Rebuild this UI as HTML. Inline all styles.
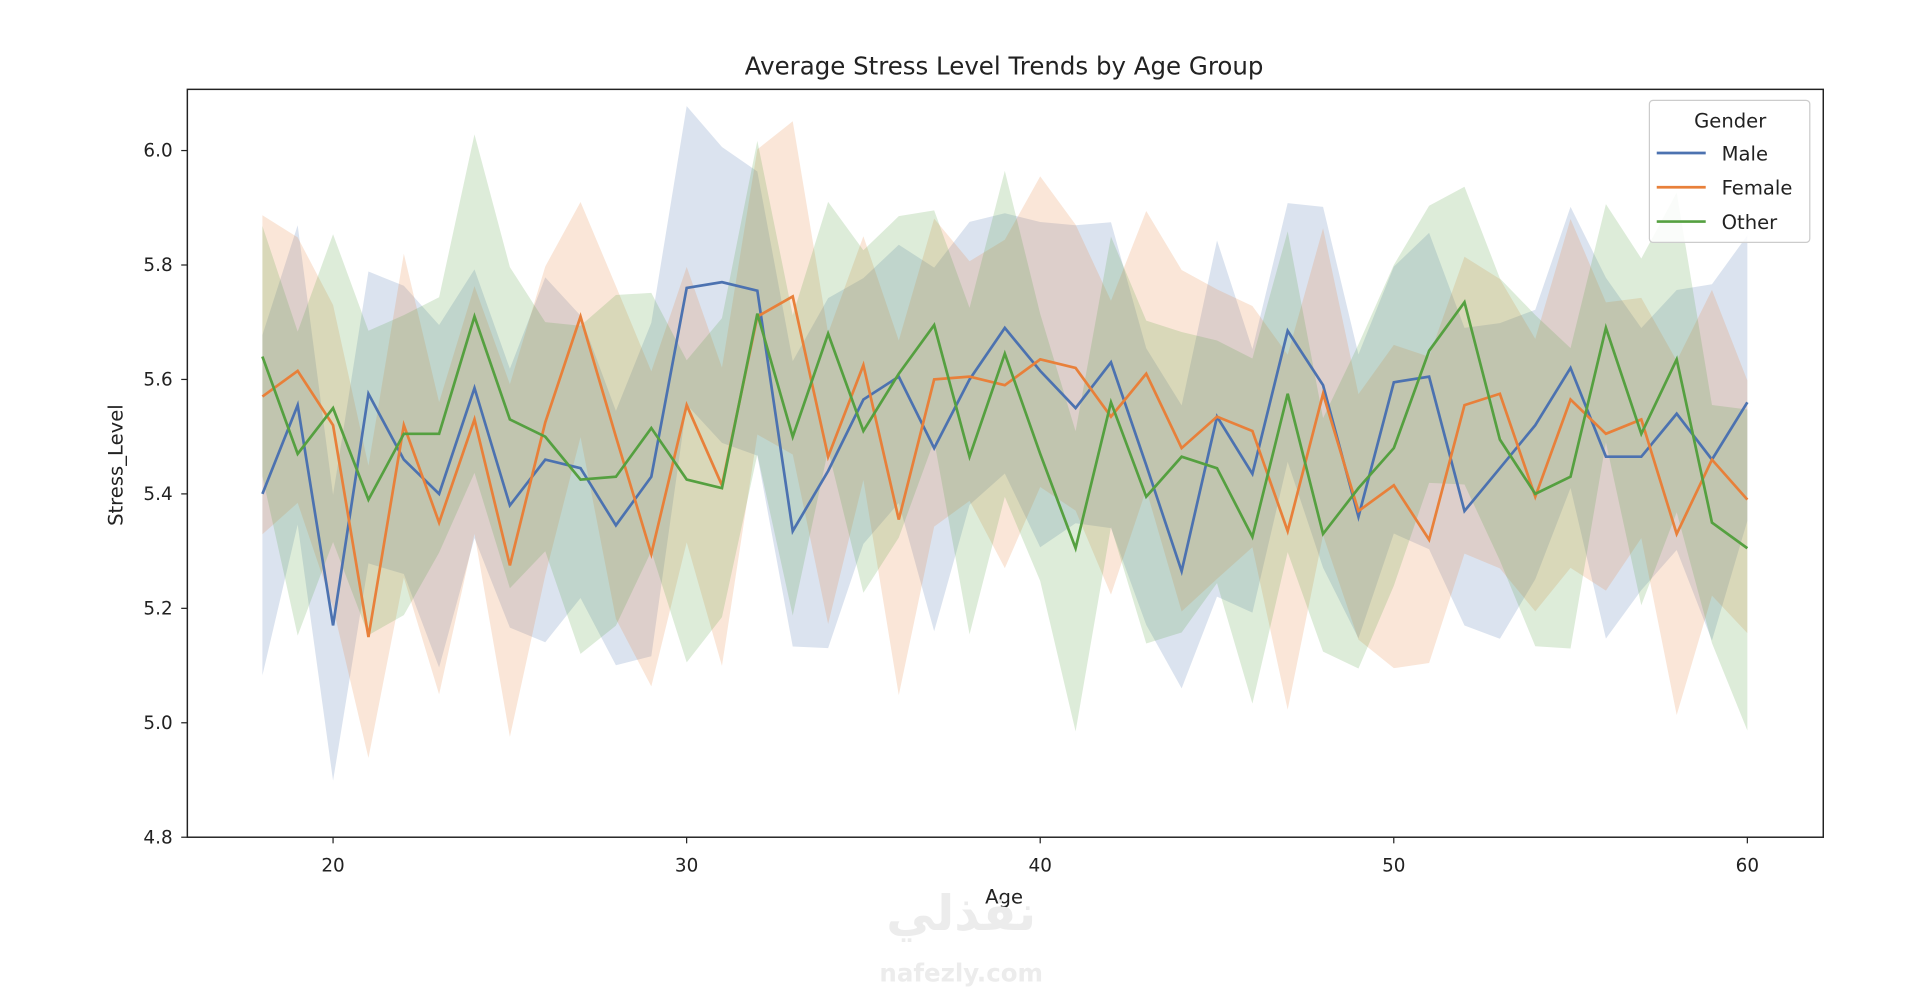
<!DOCTYPE html>
<html><head><meta charset="utf-8"><style>
html,body{margin:0;padding:0;background:#fff;}
svg{display:block;font-family:"DejaVu Sans","Liberation Sans",sans-serif;}
</style></head><body>
<svg id="s" width="1920" height="989" viewBox="0 0 1568 808" preserveAspectRatio="none" xmlns="http://www.w3.org/2000/svg"></svg>
<script>
const M=[5.40,5.555,5.17,5.575,5.46,5.40,5.585,5.38,5.46,5.445,5.345,5.43,5.76,5.77,5.755,5.335,5.44,5.565,5.605,5.48,5.6,5.69,5.615,5.55,5.63,5.45,5.265,5.535,5.435,5.685,5.59,5.36,5.595,5.605,5.37,5.445,5.52,5.62,5.465,5.465,5.54,5.46,5.56];
const F=[5.57,5.615,5.52,5.15,5.52,5.35,5.53,5.275,5.525,5.71,5.5,5.295,5.555,5.415,5.71,5.745,5.465,5.625,5.355,5.6,5.605,5.59,5.635,5.62,5.535,5.61,5.48,5.535,5.51,5.335,5.575,5.37,5.415,5.32,5.555,5.575,5.395,5.565,5.505,5.53,5.33,5.46,5.39];
const O=[5.64,5.47,5.55,5.39,5.505,5.505,5.71,5.53,5.5,5.425,5.43,5.515,5.425,5.41,5.715,5.50,5.68,5.51,5.61,5.695,5.465,5.645,5.47,5.305,5.56,5.395,5.465,5.445,5.325,5.575,5.33,5.41,5.48,5.65,5.735,5.495,5.4,5.43,5.69,5.505,5.635,5.35,5.305];
const X=a=>272+(a-20)*28.875, Y=v=>590.5-(v-5.0)*467.5;
let h='';
h+='<rect x="0" y="0" width="1568" height="808" fill="#fff"/>';
function series(d,col,seed){
  let up=[],lo=[],ln=[];
  d.forEach((v,i)=>{const a=18+i;const r1=0.26+0.06*Math.sin(i*1.7+seed);const r2=0.26+0.06*Math.cos(i*2.3+seed);
    up.push(X(a).toFixed(1)+','+Y(v+r1).toFixed(1));lo.unshift(X(a).toFixed(1)+','+Y(v-r2).toFixed(1));ln.push(X(a).toFixed(1)+','+Y(v).toFixed(1));});
  return {band:'<polygon points="'+up.concat(lo).join(' ')+'" fill="'+col+'" fill-opacity="0.2"/>',line:'<polyline points="'+ln.join(' ')+'" fill="none" stroke="'+col+'" stroke-width="2.2"/>'};
}
const sm=series(M,'#4c72b0',0.3),sf=series(F,'#e8803a',1.9),so=series(O,'#55a040',3.7);
h+=sm.band+sf.band+so.band+sm.line+sf.line+so.line;
h+='<rect x="153" y="73" width="1336" height="611" fill="none" stroke="#222" stroke-width="1.2"/>';
[4.8,5.0,5.2,5.4,5.6,5.8,6.0].forEach(v=>{const y=Y(v);h+=`<line x1="148" y1="${y}" x2="153" y2="${y}" stroke="#222"/><text x="141" y="${y+5}" font-size="15" text-anchor="end" fill="#222">${v.toFixed(1)}</text>`;});
[20,30,40,50,60].forEach(a=>{const x=X(a);h+=`<line x1="${x}" y1="684" x2="${x}" y2="689" stroke="#222"/><text x="${x}" y="712" font-size="15" text-anchor="middle" fill="#222">${a}</text>`;});
h+='<text x="820" y="61" font-size="20" text-anchor="middle" fill="#222">Average Stress Level Trends by Age Group</text>';
h+='<text x="820" y="738" font-size="16" text-anchor="middle" fill="#222">Age</text>';
h+='<text transform="translate(100,380) rotate(-90)" font-size="16" text-anchor="middle" fill="#222">Stress_Level</text>';
h+='<rect x="1347" y="82" width="131" height="116" rx="3" fill="#fff" fill-opacity="0.85" stroke="#ccc"/>';
h+='<text x="1413" y="104" font-size="16" text-anchor="middle" fill="#222">Gender</text>';
[['Male','#4c72b0',125],['Female','#e8803a',153],['Other','#55a040',181]].forEach(([n,c,y])=>{h+=`<line x1="1353" y1="${y}" x2="1393" y2="${y}" stroke="${c}" stroke-width="2.2"/><text x="1406" y="${y+6}" font-size="16" fill="#222">${n}</text>`;});
h+='<text x="785" y="760" font-size="40" font-weight="bold" text-anchor="middle" fill="#ececec">نفذلي</text>';
h+='<text x="785" y="802" font-size="20" font-weight="bold" text-anchor="middle" fill="#ececec">nafezly.com</text>';
document.getElementById('s').innerHTML=h;
</script>
</body></html>
